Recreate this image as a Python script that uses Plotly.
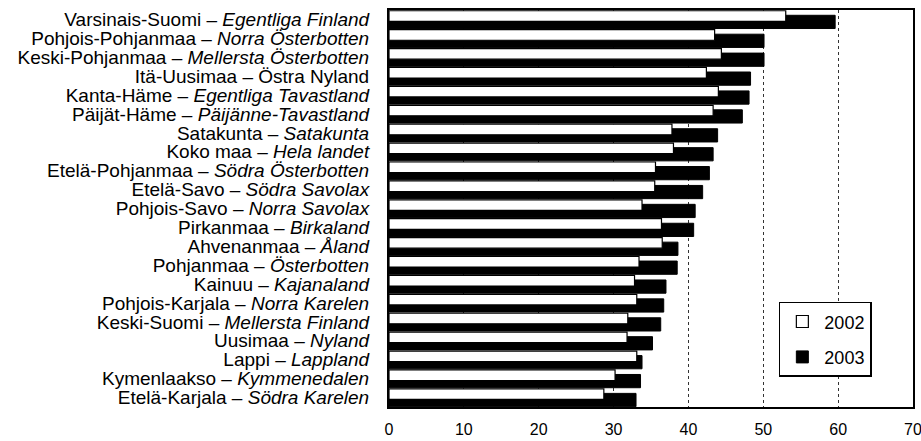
import plotly.graph_objects as go

regions_fi = ["Varsinais-Suomi", "Pohjois-Pohjanmaa", "Keski-Pohjanmaa", "Itä-Uusimaa",
              "Kanta-Häme", "Päijät-Häme", "Satakunta", "Koko maa", "Etelä-Pohjanmaa",
              "Etelä-Savo", "Pohjois-Savo", "Pirkanmaa", "Ahvenanmaa", "Pohjanmaa",
              "Kainuu", "Pohjois-Karjala", "Keski-Suomi", "Uusimaa", "Lappi",
              "Kymenlaakso", "Etelä-Karjala"]
regions_sv = ["Egentliga Finland", "Norra Österbotten", "Mellersta Österbotten", "Östra Nyland",
              "Egentliga Tavastland", "Päijänne-Tavastland", "Satakunta", "Hela landet",
              "Södra Österbotten", "Södra Savolax", "Norra Savolax", "Birkaland", "Åland",
              "Österbotten", "Kajanaland", "Norra Karelen", "Mellersta Finland", "Nyland",
              "Lappland", "Kymmenedalen", "Södra Karelen"]
sv_italic = [True, True, True, False, True, True, True, True, True, True, True, True, True,
             True, True, True, True, True, True, True, True]
values_2002 = [53.0, 43.5, 44.4, 42.4, 44.0, 43.3, 37.8, 38.0, 35.6, 35.5, 33.8, 36.4, 36.5,
               33.4, 32.8, 33.1, 31.9, 31.8, 33.1, 30.2, 28.7]
values_2003 = [59.6, 50.1, 50.1, 48.3, 48.1, 47.2, 43.9, 43.3, 42.8, 41.9, 40.9, 40.7, 38.6,
               38.5, 37.0, 36.7, 36.3, 35.2, 33.8, 33.6, 33.0]
x_ticks = [0, 10, 20, 30, 40, 50, 60, 70]

tick_text = [f"{fi} – <i>{sv}</i>" if it else f"{fi} – {sv}"
             for fi, sv, it in zip(regions_fi, regions_sv, sv_italic)]

FONT = "Liberation Sans, Arial, Helvetica, sans-serif"

fig = go.Figure()
fig.add_trace(go.Bar(
    y=regions_fi, x=values_2003, orientation="h", name="2003",
    marker=dict(color="black", line=dict(color="black", width=1)),
    offset=-0.22, width=0.70, legendgroup="b", legendrank=2,
))
fig.add_trace(go.Bar(
    y=regions_fi, x=values_2002, orientation="h", name="2002",
    marker=dict(color="white", line=dict(color="black", width=1.2)),
    offset=-0.46, width=0.56, legendgroup="a", legendrank=1,
))

fig.update_layout(
    width=921, height=441,
    margin=dict(l=389, r=8, t=10, b=34, autoexpand=False),
    paper_bgcolor="white", plot_bgcolor="white",
    barmode="overlay",
    font=dict(family=FONT, color="black"),
    showlegend=True,
    legend=dict(
        x=0.744, y=0.265, xanchor="left", yanchor="top",
        bordercolor="black", borderwidth=1.5, bgcolor="white",
        font=dict(size=18, family=FONT, color="black"),
        tracegroupgap=9, itemwidth=34,
    ),
)
fig.update_xaxes(
    range=[0, 70], tickvals=x_ticks, ticktext=[str(t) for t in x_ticks],
    showgrid=True, gridcolor="#333333", griddash="dot", gridwidth=1,
    showline=True, linecolor="black", linewidth=2, mirror=True,
    ticks="", tickfont=dict(size=16, family=FONT, color="black"),
    ticklabelstandoff=7, ticklabeloverflow="allow", zeroline=False, automargin=False,
)
fig.update_yaxes(
    type="category", categoryorder="array", categoryarray=regions_fi,
    autorange="reversed",
    tickmode="array", tickvals=regions_fi, ticktext=tick_text,
    showgrid=False, showline=True, linecolor="black", linewidth=2, mirror=True,
    ticks="", tickfont=dict(size=19, family=FONT, color="black"),
    ticklabelstandoff=14, automargin=False,
)

# remove the default 8px page margin so the figure fills the window exactly
fig.write_html("out.html", config={"displayModeBar": False},
               post_script="document.body.style.margin='0';")
